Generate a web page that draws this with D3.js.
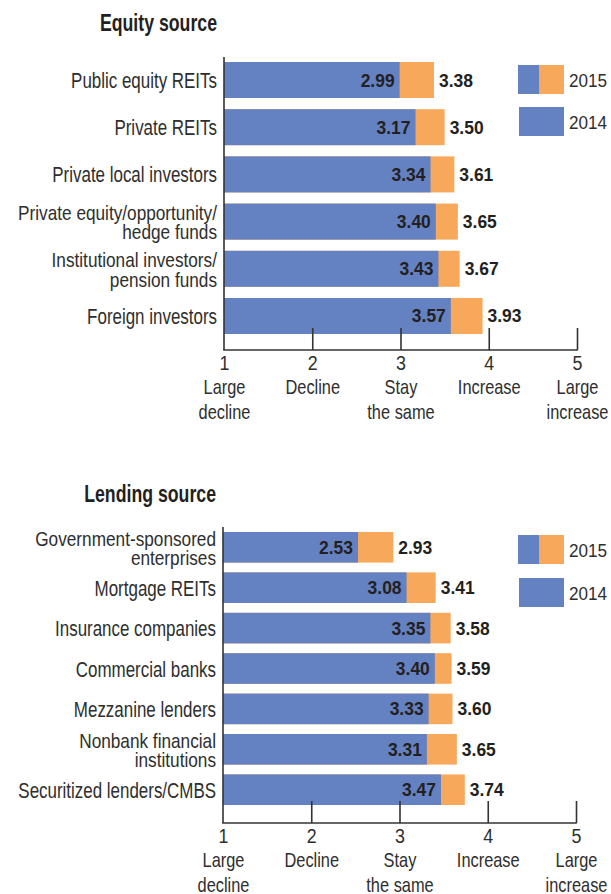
<!DOCTYPE html>
<html><head><meta charset="utf-8">
<script src="https://cdn.jsdelivr.net/npm/d3@7"></script>
<style>body{margin:0;background:#fff}svg{display:block}</style>
</head><body>
<script>
const equityCategories = ["Public equity REITs","Private REITs","Private local investors","Private equity/opportunity/\nhedge funds","Institutional investors/\npension funds","Foreign investors"];
const equity2014 = [2.99,3.17,3.34,3.40,3.43,3.57];
const equity2015 = [3.38,3.50,3.61,3.65,3.67,3.93];
const lendingCategories = ["Government-sponsored\nenterprises","Mortgage REITs","Insurance companies","Commercial banks","Mezzanine lenders","Nonbank financial\ninstitutions","Securitized lenders/CMBS"];
const lending2014 = [2.53,3.08,3.35,3.40,3.33,3.31,3.47];
const lending2015 = [2.93,3.41,3.58,3.59,3.60,3.65,3.74];
const tickValues = [1,2,3,4,5];
const tickLabels = ["Large\ndecline","Decline","Stay\nthe same","Increase","Large\nincrease"];
const seriesNames = ["2015","2014"];
const titles = ["Equity source","Lending source"];

const BLUE="#6481c1", ORANGE="#f7a85a", INK="#231f20", AX="#333", LBL="#2e2e2e";
const FONT="'Liberation Sans', Arial, sans-serif";

const svg = d3.select("body").append("svg").attr("width",611).attr("height",894);

function txt(g, x, y, s, o){
  return g.append("text")
    .attr("transform",`translate(${x},${y}) scale(${o.sx||1},1)`)
    .attr("font-family",FONT).attr("font-size",o.size)
    .attr("font-weight",o.weight||"normal")
    .attr("fill",o.fill||INK)
    .attr("text-anchor",o.anchor||"start")
    .text(s);
}

function panel(cfg){
  const g = svg.append("g");
  const x = d3.scaleLinear().domain([1,5]).range([cfg.x0, cfg.x1]);
  const y = d3.scaleBand().domain(cfg.cats.map((d,i)=>i)).range([cfg.yTop, cfg.yBot]).paddingInner(cfg.pad).paddingOuter(0);
  const bw = y.bandwidth();

  txt(g, cfg.x0-7, cfg.titleY, cfg.title, {size:23, weight:"bold", anchor:"end", sx:0.77});

  g.selectAll("rect.o").data(cfg.v15).join("rect").attr("class","o")
    .attr("x",x(1)).attr("y",(d,i)=>y(i)).attr("height",bw)
    .attr("width",d=>x(d)-x(1)).attr("fill",ORANGE);
  g.selectAll("rect.b").data(cfg.v14).join("rect").attr("class","b")
    .attr("x",x(1)).attr("y",(d,i)=>y(i)).attr("height",bw)
    .attr("width",d=>x(d)-x(1)).attr("fill",BLUE);

  cfg.v14.forEach((d,i)=>{
    const cy = y(i)+bw/2;
    txt(g, x(d)-5, cy+6.5, d.toFixed(2), {size:18, weight:"bold", anchor:"end", sx:0.97});
    txt(g, x(cfg.v15[i])+5, cy+6.5, cfg.v15[i].toFixed(2), {size:18, weight:"bold", anchor:"start", sx:0.97});
  });

  cfg.cats.forEach((c,i)=>{
    const cy = y(i)+bw/2;
    const lines = c.split("\n");
    if(lines.length===1){
      txt(g, cfg.x0-7, cy+8, lines[0], {size:22, anchor:"end", sx:0.77, fill:LBL});
    } else {
      lines.forEach((l,j)=>{
        const off = (j-0.5)*19.5;
        txt(g, cfg.x0-7, cy+off+8, l, {size:21, anchor:"end", sx:0.82, fill:LBL});
      });
    }
  });

  g.append("line").attr("x1",x(1)).attr("x2",x(1)).attr("y1",cfg.axisTop).attr("y2",cfg.base)
    .attr("stroke",AX).attr("stroke-width",1.6);
  g.append("line").attr("x1",x(1)-0.8).attr("x2",x(5)+0.8).attr("y1",cfg.base).attr("y2",cfg.base)
    .attr("stroke",AX).attr("stroke-width",1.6);
  const axis = d3.axisBottom(x).tickValues(tickValues).tickSize(0).tickFormat(d3.format("d"));
  const ag = g.append("g").attr("transform",`translate(0,${cfg.base})`).call(axis);
  ag.select(".domain").remove();
  ag.selectAll(".tick text").remove();
  ag.selectAll(".tick").each(function(d,i){
    const t = d3.select(this);
    if(i>0) t.append("line").attr("y1",0).attr("y2",-22).attr("stroke",AX).attr("stroke-width",1.6);
    txt(t, 0, 20, String(d), {size:21, anchor:"middle", sx:0.85, fill:LBL});
    tickLabels[i].split("\n").forEach((l,j)=>{
      txt(t, 0, 44+j*25, l, {size:20, anchor:"middle", sx:0.82, fill:LBL});
    });
  });

  const lx0 = 518, lxm = 539, lx1 = 564;
  g.append("rect").attr("x",lx0).attr("y",cfg.leg1).attr("width",lxm-lx0).attr("height",29).attr("fill",BLUE);
  g.append("rect").attr("x",lxm).attr("y",cfg.leg1).attr("width",lx1-lxm).attr("height",29).attr("fill",ORANGE);
  g.append("rect").attr("x",lx0+1).attr("y",cfg.leg2).attr("width",lx1-lx0-1).attr("height",29).attr("fill",BLUE);
  txt(g, 569, cfg.leg1+14.5+7, seriesNames[0], {size:19, sx:0.9, fill:LBL});
  txt(g, 569, cfg.leg2+14.5+7, seriesNames[1], {size:19, sx:0.9, fill:LBL});
}

panel({title:titles[0], titleY:31, cats:equityCategories, v14:equity2014, v15:equity2015,
  x0:224, x1:577, yTop:62, yBot:334, pad:0.237, axisTop:57, base:350, leg1:65, leg2:107});
panel({title:titles[1], titleY:502, cats:lendingCategories, v14:lending2014, v15:lending2015,
  x0:223, x1:576, yTop:532, yBot:805, pad:0.243, axisTop:527, base:823, leg1:535, leg2:578});
</script>
</body></html>
